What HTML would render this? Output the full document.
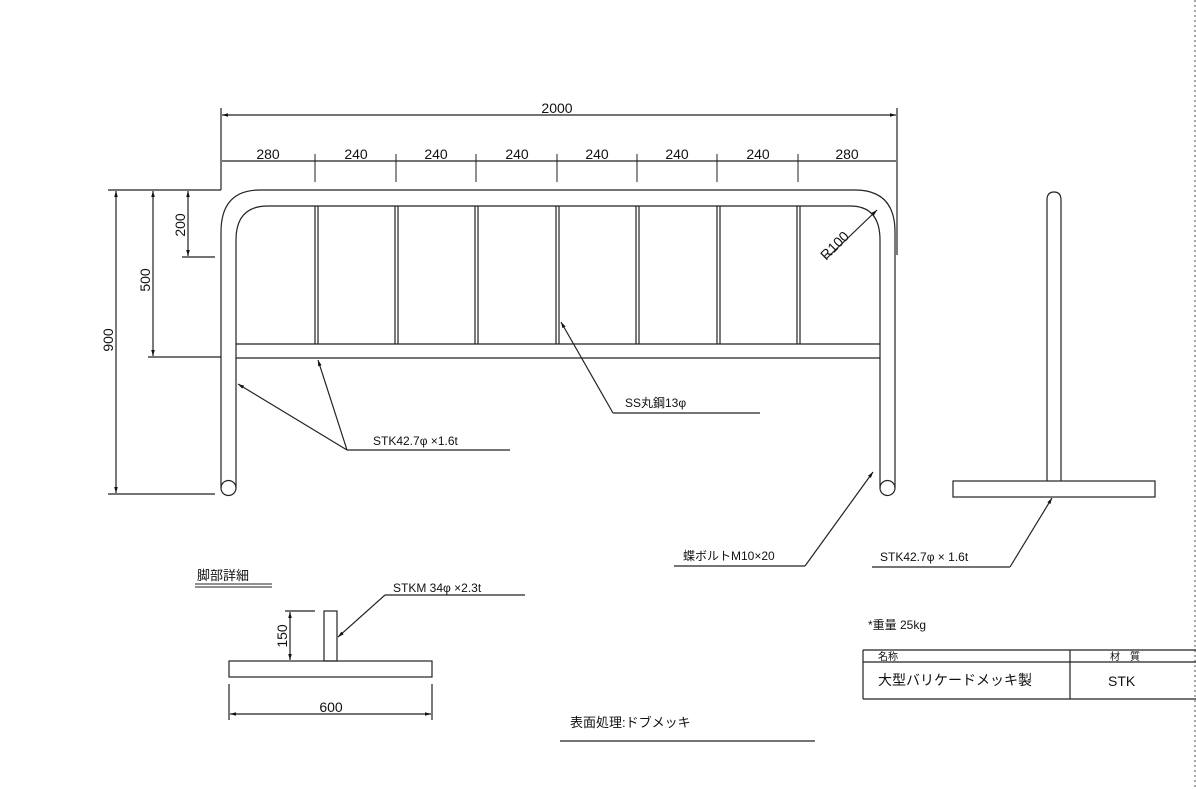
<!DOCTYPE html>
<html><head><meta charset="utf-8"><style>
html,body{margin:0;padding:0;background:#fff;}
svg{display:block;}
text{font-family:"Liberation Sans","Noto Sans CJK JP",sans-serif;fill:#111;}
</style></head><body>
<svg width="1196" height="789" viewBox="0 0 1196 789" xmlns="http://www.w3.org/2000/svg">
<defs>
<marker id="a" viewBox="0 0 10 10" refX="10" refY="5" markerWidth="7" markerHeight="5" orient="auto-start-reverse"><path d="M0,2 L10,5 L0,8 z" fill="#111"/></marker>
</defs>
<g stroke="#222" stroke-width="1.2" fill="none">
<!-- frame -->
<path d="M221,488 L221,232 Q221,190 260,190 L855,190 Q895,190 895,232 L895,488"/>
<path d="M236,488 L236,240 Q236,206 268,206 L850,206 Q880,206 880,240 L880,488"/>
<circle cx="228.5" cy="488" r="7.5"/>
<circle cx="887.5" cy="488" r="7.5"/>
<line x1="236" y1="344" x2="880" y2="344"/>
<line x1="236" y1="358" x2="880" y2="358"/>
<g>
<line x1="315" y1="206" x2="315" y2="344"/><line x1="318" y1="206" x2="318" y2="344"/>
<line x1="395" y1="206" x2="395" y2="344"/><line x1="398" y1="206" x2="398" y2="344"/>
<line x1="475" y1="206" x2="475" y2="344"/><line x1="478" y1="206" x2="478" y2="344"/>
<line x1="556" y1="206" x2="556" y2="344"/><line x1="559" y1="206" x2="559" y2="344"/>
<line x1="636" y1="206" x2="636" y2="344"/><line x1="639" y1="206" x2="639" y2="344"/>
<line x1="717" y1="206" x2="717" y2="344"/><line x1="720" y1="206" x2="720" y2="344"/>
<line x1="797" y1="206" x2="797" y2="344"/><line x1="800" y1="206" x2="800" y2="344"/>
</g>
<!-- top dims -->
<line x1="221" y1="108" x2="221" y2="190"/>
<line x1="897" y1="108" x2="897" y2="255"/>
<line x1="222" y1="115" x2="896" y2="115" marker-start="url(#a)" marker-end="url(#a)"/>
<line x1="222" y1="161" x2="896" y2="161"/>
<g stroke-width="1"><line x1="315" y1="154" x2="315" y2="182"/><line x1="396" y1="154" x2="396" y2="182"/><line x1="476" y1="154" x2="476" y2="182"/><line x1="557" y1="154" x2="557" y2="182"/><line x1="637" y1="154" x2="637" y2="182"/><line x1="717" y1="154" x2="717" y2="182"/><line x1="798" y1="154" x2="798" y2="182"/></g>
<!-- left dims -->
<line x1="108" y1="190" x2="221" y2="190"/>
<line x1="148" y1="357" x2="221" y2="357"/>
<line x1="182" y1="257" x2="215" y2="257"/>
<line x1="108" y1="494" x2="215" y2="494"/>
<line x1="116" y1="191" x2="116" y2="493" marker-start="url(#a)" marker-end="url(#a)"/>
<line x1="153" y1="191" x2="153" y2="356" marker-start="url(#a)" marker-end="url(#a)"/>
<line x1="188" y1="191" x2="188" y2="256" marker-start="url(#a)" marker-end="url(#a)"/>
<!-- R100 -->
<line x1="826" y1="259" x2="877" y2="210" marker-end="url(#a)"/>
<!-- leaders -->
<line x1="347" y1="450" x2="510" y2="450"/>
<line x1="347" y1="450" x2="238" y2="384" marker-end="url(#a)"/>
<line x1="347" y1="450" x2="318" y2="360" marker-end="url(#a)"/>
<line x1="613" y1="413" x2="760" y2="413"/>
<line x1="613" y1="413" x2="561" y2="322" marker-end="url(#a)"/>
<line x1="674" y1="566" x2="805" y2="566"/>
<line x1="805" y1="566" x2="873" y2="472" marker-end="url(#a)"/>
<!-- side view -->
<path d="M1047,481 L1047,200 Q1047,192 1054,192 Q1061,192 1061,200 L1061,481"/>
<rect x="953" y="481" width="202" height="16"/>
<line x1="872" y1="567" x2="1010" y2="567"/>
<line x1="1010" y1="567" x2="1052" y2="498" marker-end="url(#a)"/>
<!-- foot detail -->
<line x1="195" y1="584" x2="272" y2="584" stroke-width="1"/>
<line x1="195" y1="587" x2="272" y2="587" stroke-width="1"/>
<rect x="324" y="611" width="13" height="50"/>
<rect x="229" y="661" width="203" height="16"/>
<line x1="285" y1="611" x2="315" y2="611"/>
<line x1="290" y1="612" x2="290" y2="660" marker-start="url(#a)" marker-end="url(#a)"/>
<line x1="229" y1="684" x2="229" y2="720"/>
<line x1="432" y1="684" x2="432" y2="720"/>
<line x1="230" y1="714" x2="431" y2="714" marker-start="url(#a)" marker-end="url(#a)"/>
<line x1="385" y1="595" x2="525" y2="595"/>
<line x1="385" y1="595" x2="338" y2="637" marker-end="url(#a)"/>
<line x1="560" y1="741" x2="815" y2="741"/>
<!-- table -->
<line x1="863" y1="650" x2="1196" y2="650"/>
<line x1="863" y1="662" x2="1196" y2="662"/>
<line x1="863" y1="699" x2="1196" y2="699"/>
<line x1="863" y1="650" x2="863" y2="699"/>
<line x1="1070" y1="650" x2="1070" y2="699"/>
<line x1="1195" y1="0" x2="1195" y2="789" stroke-dasharray="2,3" stroke-width="0.8"/>
</g>
<g font-size="14">
<text x="557" y="113" text-anchor="middle">2000</text>
<text x="268" y="159" text-anchor="middle">280</text>
<text x="356" y="159" text-anchor="middle">240</text>
<text x="436" y="159" text-anchor="middle">240</text>
<text x="517" y="159" text-anchor="middle">240</text>
<text x="597" y="159" text-anchor="middle">240</text>
<text x="677" y="159" text-anchor="middle">240</text>
<text x="758" y="159" text-anchor="middle">240</text>
<text x="847" y="159" text-anchor="middle">280</text>
<text transform="translate(113,340) rotate(-90)" text-anchor="middle">900</text>
<text transform="translate(150,280) rotate(-90)" text-anchor="middle">500</text>
<text transform="translate(185,225) rotate(-90)" text-anchor="middle">200</text>
<text transform="translate(838,249) rotate(-45)" text-anchor="middle">R100</text>
<text transform="translate(287,636) rotate(-90)" text-anchor="middle">150</text>
<text x="331" y="712" text-anchor="middle">600</text>
</g>
<g font-size="12">
<text x="373" y="445">STK42.7φ ×1.6t</text>
<text x="625" y="407">SS丸鋼13φ</text>
<text x="683" y="560">蝶ボルトM10×20</text>
<text x="880" y="561">STK42.7φ × 1.6t</text>
<text x="393" y="592">STKM 34φ ×2.3t</text>
<text x="197" y="580" font-size="13">脚部詳細</text>
<text x="570" y="727" font-size="13">表面処理:ドブメッキ</text>
<text x="868" y="629">*重量 25kg</text>
<text x="878" y="660" font-size="10">名称</text>
<text x="1110" y="660" font-size="10">材　質</text>
<text x="878" y="685" font-size="14">大型バリケードメッキ製</text>
<text x="1108" y="686" font-size="14">STK</text>
</g>
</svg>
</body></html>
